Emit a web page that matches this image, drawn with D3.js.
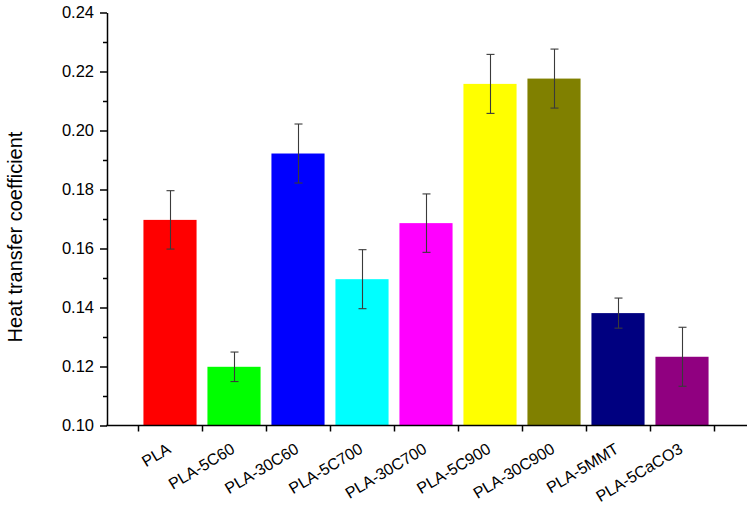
<!DOCTYPE html>
<html>
<head>
<meta charset="utf-8">
<script src="https://cdn.jsdelivr.net/npm/d3@7"></script>
<style>
  html, body { margin: 0; padding: 0; background: #fff; }
  svg { display: block; }
  text { font-family: Arial, "Liberation Sans", sans-serif; fill: #000; }
</style>
</head>
<body>
<svg id="chart" width="754" height="507"></svg>
<script>
const categories = ["PLA", "PLA-5C60", "PLA-30C60", "PLA-5C700", "PLA-30C700", "PLA-5C900", "PLA-30C900", "PLA-5MMT", "PLA-5CaCO3"];
const values = [0.1697, 0.1199, 0.1922, 0.1496, 0.1686, 0.2158, 0.2176, 0.1381, 0.1233];
const errors = [0.0099, 0.0050, 0.0100, 0.0100, 0.0099, 0.0100, 0.0100, 0.0051, 0.0100];
const colors = ["#ff0000", "#00ff00", "#0000ff", "#00ffff", "#ff00ff", "#ffff00", "#808000", "#000080", "#900080"];
const yTicks = [0.10, 0.12, 0.14, 0.16, 0.18, 0.20, 0.22, 0.24];
const yMinorTicks = [0.11, 0.13, 0.15, 0.17, 0.19, 0.21, 0.23];
const yTitle = "Heat transfer coefficient";

const svg = d3.select("#chart");

const y = d3.scaleLinear().domain([0.10, 0.24]).range([425.5, 12.5]);
const x = d3.scaleBand().domain(categories).range([138, 714]).paddingInner(0).paddingOuter(0);
const xb = d3.scaleLinear().domain([0, categories.length]).range([138, 714]);
const barFrac = 0.83;

// bars
const bw = x.bandwidth() * barFrac;
svg.append("g").selectAll("rect").data(categories).join("rect")
  .attr("x", (d) => x(d) + (x.bandwidth() - bw) / 2)
  .attr("width", bw)
  .attr("y", (d, i) => y(values[i]))
  .attr("height", (d, i) => y(0.10) - y(values[i]))
  .attr("fill", (d, i) => colors[i]);

// error bars
const eg = svg.append("g").attr("stroke", "#3a3a3a").attr("stroke-width", 1.1);
categories.forEach((c, i) => {
  const cx = Math.round(x(c) + x.bandwidth() / 2) + 0.5;
  const top = y(values[i] + errors[i]);
  const bot = y(values[i] - errors[i]);
  eg.append("line").attr("x1", cx).attr("x2", cx).attr("y1", top).attr("y2", bot);
  eg.append("line").attr("x1", cx - 4).attr("x2", cx + 4).attr("y1", top).attr("y2", top);
  eg.append("line").attr("x1", cx - 4).attr("x2", cx + 4).attr("y1", bot).attr("y2", bot);
});

// y axis
const yAxisG = svg.append("g").attr("transform", "translate(107,0)")
  .call(d3.axisLeft(y).tickValues(yTicks).tickFormat(d3.format(".2f")).tickSize(7).tickSizeOuter(0).tickPadding(6));
yAxisG.select(".domain").attr("stroke-width", 1.5);
yAxisG.selectAll(".tick line").attr("stroke-width", 1.5);
yAxisG.selectAll(".tick text").attr("font-size", 16.5).attr("font-family", "Arial, 'Liberation Sans', sans-serif");
const yMinorG = svg.append("g").attr("transform", "translate(107,0)")
  .call(d3.axisLeft(y).tickValues(yMinorTicks).tickFormat("").tickSize(4).tickSizeOuter(0));
yMinorG.select(".domain").remove();
yMinorG.selectAll(".tick line").attr("stroke-width", 1.5);

// x axis
const xAxisG = svg.append("g").attr("transform", "translate(0,425.5)")
  .call(d3.axisBottom(xb).tickValues(d3.range(categories.length + 1)).tickFormat("").tickSize(6).tickSizeOuter(0));
xAxisG.select(".domain").remove();
xAxisG.selectAll(".tick line").attr("stroke-width", 1.5);
xAxisG.append("line").attr("x1", 106.25).attr("x2", 747).attr("y1", 0).attr("y2", 0)
  .attr("stroke", "#000").attr("stroke-width", 1.5);

// x labels
svg.append("g").selectAll("text").data(categories).join("text")
  .attr("transform", (d) => `translate(${x(d) + x.bandwidth() / 2 + 2},452) rotate(-31)`)
  .attr("text-anchor", "end")
  .attr("font-size", 16)
  .text((d) => d);

// y title
svg.append("text")
  .attr("transform", "translate(22,237) rotate(-90)")
  .attr("text-anchor", "middle")
  .attr("font-size", 20)
  .text(yTitle);
</script>
</body>
</html>
